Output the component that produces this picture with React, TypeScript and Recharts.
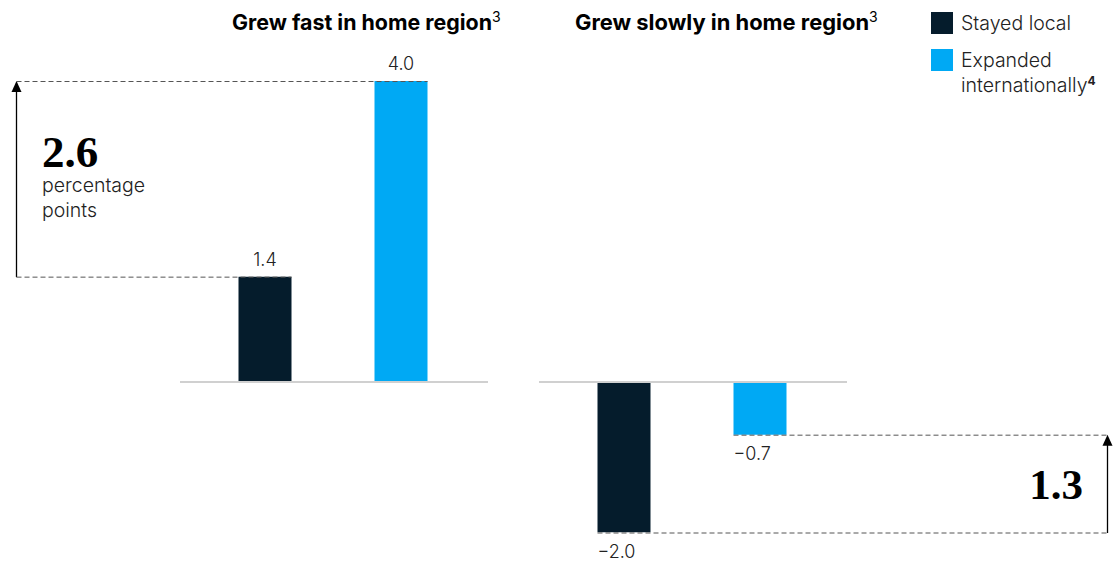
import React from 'react';
import { BarChart, Bar, XAxis, YAxis, Cell, LabelList, ReferenceLine, ReferenceArea } from 'recharts';

// series + values
const seriesNames = ['Stayed local', 'Expanded internationally'];
const seriesColors = ['#051C2C', '#00A9F4'];
const panelTitles = ['Grew fast in home region', 'Grew slowly in home region'];
const fastValues = [1.4, 4.0];
const slowValues = [-2.0, -0.7];
const yDomain = [-2, 4];

const SANS = 'Inter, "Noto Sans", sans-serif';
const SERIF = '"Liberation Serif", "DejaVu Serif", serif';
const H = 561;

const fmt = (v: number) => v.toFixed(1).replace('-', '\u2212');

const toRows = (values: number[]) => values.map((v, i) => ({ name: seriesNames[i], value: v }));

// value label + dashed guide from bar end to the arrow
const renderValueLabel = (arrowX: number) => (props: any) => {
  const vb = props.viewBox || props;
  const { x, y, width, height } = vb;
  const value = Number(props.value);
  const top = Math.min(y, y + height);
  const bottom = Math.max(y, y + height);
  const outer = value >= 0 ? top : bottom;
  const x1 = Math.min(arrowX, x);
  const x2 = Math.max(arrowX, x + width);
  return (
    <g>
      <line x1={x1} x2={x2} y1={outer + 0.5} y2={outer + 0.5} stroke="#555" strokeWidth={1} strokeDasharray="5 3" />
      {value >= 0 ? (
        <text x={x + width / 2} y={outer - 11} textAnchor="middle" fontFamily={SANS} fontSize={18} fontWeight={300} fill="#222">
          {fmt(value)}
        </text>
      ) : (
        <text x={x} y={outer + 25} textAnchor="start" fontFamily={SANS} fontSize={18} fontWeight={300} fill="#222">
          {fmt(value)}
        </text>
      )}
    </g>
  );
};

const renderArrow = (arrowX: number) => (props: any) => {
  const { y, height } = props;
  const top = Math.min(y, y + height);
  const bottom = Math.max(y, y + height);
  return (
    <g>
      <line x1={arrowX} x2={arrowX} y1={bottom + 0.5} y2={top + 9} stroke="#000" strokeWidth={1.3} />
      <path d={`M${arrowX - 5},${top + 11} L${arrowX},${top} L${arrowX + 5},${top + 11} Z`} fill="#000" />
    </g>
  );
};

interface PanelProps {
  values: number[];
  left: number;
  width: number;
  marginLeft: number;
  marginRight: number;
  arrowX: number;
}

const Panel: React.FC<PanelProps> = ({ values, left, width, marginLeft, marginRight, arrowX }) => {
  const data = toRows(values);
  return (
    <div style={{ position: 'absolute', left, top: 0 }}>
      <BarChart width={width} height={H} data={data} margin={{ top: 81, bottom: 28.5, left: marginLeft, right: marginRight }}>
        <XAxis dataKey="name" hide padding={{ left: 16.5, right: 19.5 }} />
        <YAxis hide type="number" domain={yDomain} allowDataOverflow />
        <ReferenceArea y1={Math.min(...values)} y2={Math.max(...values)} ifOverflow="visible" shape={renderArrow(arrowX)} />
        <Bar dataKey="value" barSize={53} isAnimationActive={false}>
          {data.map((d, i) => (
            <Cell key={d.name} fill={seriesColors[i]} />
          ))}
          <LabelList dataKey="value" content={renderValueLabel(arrowX)} />
        </Bar>
        <ReferenceLine y={0} stroke="#D0D0D0" strokeWidth={2} />
      </BarChart>
    </div>
  );
};

export default function App() {
  const fastGap = fmt(fastValues[1] - fastValues[0]);
  const slowGap = fmt(slowValues[1] - slowValues[0]);
  return (
    <div style={{ position: 'absolute', left: 0, top: 0, width: 1116, height: H, background: '#fff' }}>
      <Panel values={fastValues} left={0} width={520} marginLeft={180} marginRight={32} arrowX={16.5} />
      <Panel values={slowValues} left={520} width={596} marginLeft={19} marginRight={269} arrowX={587.5} />
      <svg width={1116} height={H} style={{ position: 'absolute', left: 0, top: 0, pointerEvents: 'none' }}>
        <text x={232} y={30} fontFamily={SANS} fontSize={21.4} fontWeight={700} fill="#000">
          {panelTitles[0]}
          <tspan fontSize={14} fontWeight={400} dy={-8}>3</tspan>
        </text>
        <text x={575} y={30} fontFamily={SANS} fontSize={21.9} fontWeight={700} fill="#000">
          {panelTitles[1]}
          <tspan fontSize={14} fontWeight={400} dy={-8}>3</tspan>
        </text>

        <rect x={931} y={12} width={22} height={22} fill={seriesColors[0]} />
        <text x={961} y={30} fontFamily={SANS} fontSize={19.5} fontWeight={300} fill="#222">{seriesNames[0]}</text>
        <rect x={931} y={49} width={22} height={22} fill={seriesColors[1]} />
        <text x={961} y={67} fontFamily={SANS} fontSize={19.5} fontWeight={300} fill="#222">Expanded</text>
        <text x={961} y={92} fontFamily={SANS} fontSize={19.5} fontWeight={300} fill="#222">
          internationally
          <tspan fontSize={12} fontWeight={700} dy={-7}>4</tspan>
        </text>

        <text x={42} y={167} fontFamily={SERIF} fontSize={45} fontWeight={700} fill="#000">{fastGap}</text>
        <text x={42} y={192} fontFamily={SANS} fontSize={19.5} fontWeight={300} fill="#222">percentage</text>
        <text x={42} y={217} fontFamily={SANS} fontSize={19.5} fontWeight={300} fill="#222">points</text>

        <text x={1083} y={499} textAnchor="end" fontFamily={SERIF} fontSize={43} fontWeight={700} fill="#000">{slowGap}</text>
      </svg>
    </div>
  );
}
